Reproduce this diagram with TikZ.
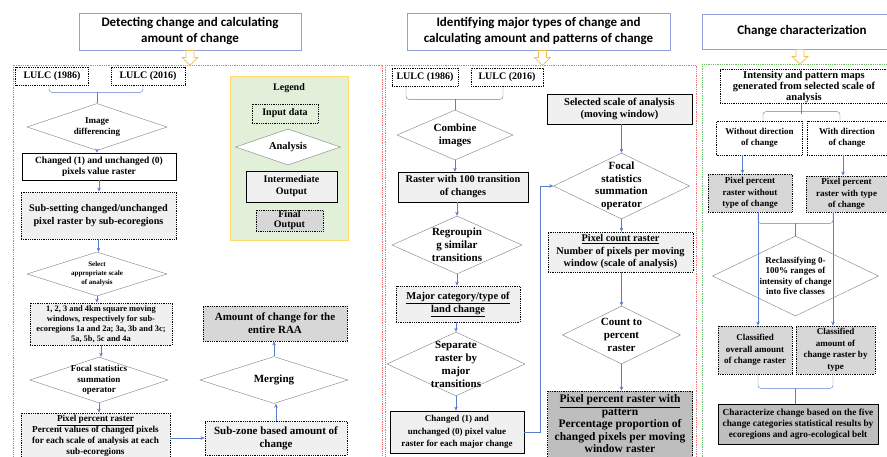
\documentclass[tikz,border=0pt]{standalone}
\usepackage{fontspec}
\setmainfont{Liberation Serif}
\newfontfamily\headfont{Carlito}
\usetikzlibrary{arrows.meta, shapes.geometric}

\definecolor{flowblue}{RGB}{91,125,205}
\definecolor{headline}{RGB}{143,160,220}
\definecolor{hollowarrow}{RGB}{245,190,70}
\definecolor{secred}{RGB}{240,110,110}
\definecolor{secgreen}{RGB}{110,190,100}
\definecolor{legfill}{RGB}{226,239,217}
\definecolor{legline}{RGB}{255,217,102}
\definecolor{greyA}{RGB}{240,240,240}
\definecolor{greyB}{RGB}{215,215,215}
\definecolor{greyC}{RGB}{190,190,190}

\newcommand{\bsz}[2]{\fontsize{#1}{#2}\selectfont\bfseries}

\begin{document}
\begin{tikzpicture}[
    x=1pt, y=-1pt,
    headbox/.style={draw=headline, thick, fill=white, align=center,
        font=\headfont\bfseries\fontsize{13}{16}\selectfont},
    secframe/.style={densely dotted, line width=0.8pt},
    hollow/.style={draw=hollowarrow, thick, fill=white},
    inbox/.style={draw, densely dotted, line width=0.8pt, align=center, inner sep=1pt},
    midbox/.style={draw, line width=0.7pt, align=center, inner sep=1pt},
    dia/.style={diamond, draw=gray, fill=white, align=center, inner xsep=-12pt, inner ysep=-8pt},
    sz/.style 2 args={minimum width=#1, minimum height=#2},
    flow/.style={draw=flowblue, -{Stealth[length=4pt,width=3.5pt]}},
    link/.style={draw=flowblue, rounded corners=3pt}
]
\useasboundingbox (0,0) rectangle (887,456);

% =========================
% Frames
% =========================
\draw[secframe, draw=secred] (13,65) rectangle (382,470);
\draw[secframe, draw=secred] (385,65) rectangle (696,470);
\draw[secframe, draw=secgreen] (702,64) rectangle (895,470);

% Headings
\node[headbox, sz={222}{37}] (head1) at (190,31.5) {Detecting change and calculating\\amount of change};
\node[headbox, sz={263}{37}] (head2) at (538.5,31.5) {Identifying major types  of change and\\calculating amount and patterns of change};
\node[headbox, sz={200}{35}] (head3) at (802,31.5) {Change characterization};

\foreach \h/\dx in {head1/0, head2/4, head3/-2}
{
    \draw[hollow] ([xshift=\dx pt]\h.south) ++(-4,0) -- ++(8,0) -- ++(0,7) -- ++(4,0)
        -- ++(-8,8) -- ++(-8,-8) -- ++(4,0) -- cycle;
}

% =========================
% Detecting change
% =========================
\node[inbox, fill=white, sz={73}{18}, font=\bsz{10}{12}] (lulcA1) at (52,76) {LULC (1986)};
\node[inbox, fill=white, sz={74}{18}, font=\bsz{10}{12}] (lulcB1) at (148,76) {LULC (2016)};
\node[dia, sz={140}{47}, font=\bsz{9}{11}] (diff) at (97,127) {Image\\differencing};
\node[midbox, fill=white, sz={154}{27}, font=\bsz{9.5}{11.5}] (chg1) at (99,166.5) {Changed (1) and unchanged (0)\\pixels value raster};
\node[inbox, fill=greyA, sz={155}{47}, font=\bsz{10.2}{13}] (subset) at (98.5,215.5) {Sub-setting changed/unchanged\\pixel raster by sub-ecoregions};
\node[dia, sz={140}{44}, font=\bsz{7}{9}] (scale) at (97,274) {Select\\appropriate scale\\of analysis};
\node[inbox, fill=greyA, sz={142}{42}, font=\bsz{8.4}{10}] (win) at (101,324) {1, 2,  3 and 4km square moving\\windows, respectively for sub-\\ecoregions 1a and 2a; 3a, 3b and 3c;\\5a, 5b, 5c and 4a};
\node[dia, sz={138}{46}, font=\bsz{9}{10.5}] (focal1) at (99,380) {Focal statistics\\summation\\operator};
\node[inbox, fill=greyA, sz={149}{46}, font=\bsz{9.2}{10.8}] (pct1) at (95.5,436) {\underline{Pixel  percent raster}\\Percent values of changed pixels\\for each scale of analysis at each\\sub-ecoregions};
\node[inbox, fill=greyA, sz={142}{34}, font=\bsz{11}{13}] (zone) at (276,438) {Sub-zone based amount of\\change};
\node[dia, sz={148}{47}, font=\bsz{11}{13}] (merge) at (274,380) {Merging};
\node[inbox, fill=greyB, sz={144}{35}, font=\bsz{11}{13}] (raa) at (275,323.5) {Amount of change for the\\entire RAA};

\draw[link] ([xshift=-3pt]lulcA1.south) -- ++(0,7) -| ([xshift=-5pt]lulcB1.south);
\draw[link] (diff.north) -- ++(0,-11);
\draw[flow] (diff.south) -- (diff.south |- chg1.north);
\draw[flow] (chg1.south) -- (chg1.south |- subset.north);
\draw[flow] (subset.south) -- (subset.south |- scale.north);
\draw[flow] (scale.south) -- (scale.south |- win.north);
\draw[flow] (win.south) -- (win.south |- focal1.north);
\draw[flow] (focal1.south) -- (focal1.south |- pct1.north);
\draw[flow] (pct1.east |- zone.west) -- (zone.west);
\draw[flow] (zone.north) -- (zone.north |- merge.south);
\draw[flow] (merge.north) -- (merge.north |- raa.south);

% Legend
\node[draw=legline, thick, fill=legfill, sz={118}{164}] (legend) at (289,158) {};
\node[font=\bsz{10}{12}] (legtitle) at (289,88) {Legend};
\node[inbox, sz={66}{19}, font=\bsz{10}{12}] (legin) at (285,113.5) {Input data};
\node[dia, sz={105}{36}, font=\bsz{10.5}{12}] (legana) at (288,147) {Analysis};
\node[midbox, fill=greyA, sz={91}{31}, font=\bsz{10}{12}] (legmid) at (291.5,186.5) {Intermediate\\Output};
\node[inbox, fill=greyB, sz={67}{21}, font=\bsz{10}{10}] (legfin) at (289.5,220.5) {Final\\Output};

% =========================
% Major types of change
% =========================
\node[inbox, fill=white, sz={66}{18}, font=\bsz{10}{12}] (lulcA2) at (425,77) {LULC (1986)};
\node[inbox, fill=white, sz={72}{18}, font=\bsz{10}{12}] (lulcB2) at (507,77) {LULC (2016)};
\node[dia, sz={116}{50}, font=\bsz{11}{13}] (combine) at (455,135) {Combine\\images};
\node[midbox, fill=greyA, sz={130}{30}, font=\bsz{10.3}{13}] (r100) at (463,187) {Raster with 100 transition\\of changes};
\node[dia, sz={130}{58}, font=\bsz{11}{13}] (regroup) at (457,245) {Regroupin\\g similar\\transitions};
\node[inbox, fill=greyA, sz={124}{36}, font=\bsz{10.5}{13}] (major) at (458,304) {\underline{Major category/type of}\\\underline{land change}};
\node[dia, sz={138}{64}, font=\bsz{11}{13}] (separate) at (456,364) {Separate\\raster by\\major\\transitions};
\node[midbox, fill=greyA, sz={134}{42}, font=\bsz{9}{12.5}] (chg2) at (457,432) {Changed  (1) and\\unchanged  (0) pixel  value\\raster for each major change};
\node[midbox, fill=greyA, sz={145}{30}, font=\bsz{10.5}{12}] (selwin) at (619.5,109) {Selected scale of analysis\\(moving window)};
\node[dia, sz={136}{66}, font=\bsz{11}{12.5}] (focal2) at (621.5,186) {Focal\\statistics\\summation\\operator};
\node[inbox, fill=greyA, sz={145}{40}, font=\bsz{10.3}{12.5}] (count) at (620.5,252) {\underline{Pixel  count raster}\\Number of pixels per moving\\window (scale of analysis)};
\node[dia, sz={118}{58}, font=\bsz{11}{13}] (c2p) at (621.5,335) {Count to\\percent\\raster};
\node[inbox, fill=greyC, sz={145}{66}, font=\bsz{11.5}{12.5}] (pattern) at (620,424) {\underline{Pixel  percent raster with}\\pattern\\Percentage proportion of\\changed pixels per moving\\window raster};

\draw[link] ([xshift=-19pt]lulcA2.south) -- ++(0,13) -| ([xshift=-4pt]lulcB2.south);
\draw[link] (combine.north) -- ++(0,-11);
\draw[flow] (combine.south) -- (combine.south |- r100.north);
\draw[flow] (regroup.north |- r100.south) -- (regroup.north);
\draw[flow] (regroup.south) -- (regroup.south |- major.north);
\draw[flow] (separate.north |- major.south) -- (separate.north);
\draw[flow] (separate.south) -- (separate.south |- chg2.north);
\draw[flow] (chg2.east) -- ++(16,0) |- (focal2.west);
\draw[flow] (focal2.north |- selwin.south) -- (focal2.north);
\draw[flow] (focal2.south) -- (focal2.south |- count.north);
\draw[flow] (c2p.north |- count.south) -- (c2p.north);
\draw[flow] (c2p.south) -- (c2p.south |- pattern.north);

% =========================
% Change characterization
% =========================
\node[inbox, fill=white, sz={168}{31}, font=\bsz{10.5}{11}] (intens) at (804,86.5) {Intensity and pattern maps\\generated from selected scale of\\analysis};
\node[inbox, fill=white, sz={86}{34}, font=\bsz{9}{11}] (wo) at (759.5,138) {Without direction\\of change};
\node[inbox, fill=white, sz={80}{34}, font=\bsz{9}{11}] (wi) at (847,138) {With direction\\of change};
\node[inbox, fill=greyB, sz={84}{38}, font=\bsz{9}{11.5}] (ppwo) at (750,193) {Pixel  percent\\raster without\\type of change};
\node[inbox, fill=greyB, sz={81}{36}, font=\bsz{9}{11.5}] (ppwi) at (846.5,194) {Pixel  percent\\raster with type\\of change};
\node[dia, sz={166}{80}, font=\bsz{9}{10.5}] (reclass) at (795.5,276) {Reclassifying 0-\\100\% ranges of\\intensity of change\\into five classes};
\node[inbox, fill=greyB, sz={74}{48}, font=\bsz{9}{11.5}] (clo) at (755,350) {Classified\\overall amount\\of change raster};
\node[inbox, fill=greyB, sz={79}{48}, font=\bsz{9}{11.5}] (clt) at (835.5,350) {Classified\\amount of\\change raster by\\type};
\node[midbox, fill=greyC, sz={160}{40}, font=\bsz{9.3}{11}] (charz) at (798,424) {Characterize change based on the five\\change categories statistical results by\\ecoregions and agro-ecological belt};

\draw[link] ([xshift=3.5pt]wo.north) -- ++(0,-9) -| ([xshift=-7pt]wi.north);
\draw[link] ([xshift=-3pt]intens.south) -- ++(0,10);
\draw[flow] ([xshift=-17pt]wo.south) -- ([xshift=-17pt]wo.south |- ppwo.north);
\draw[flow] ([xshift=-4pt]wi.south) -- ([xshift=-4pt]wi.south |- ppwi.north);
\draw[flow] ([xshift=8pt]ppwo.south) -- ([xshift=8pt]ppwo.south |- clo.north);
\draw[flow] ([xshift=-13.5pt]ppwi.south) -- ([xshift=-13.5pt]ppwi.south |- clt.north);
\draw[link] ([xshift=8pt]ppwo.south) -- ++(0,11) -| ([xshift=-13.5pt]ppwi.south);
\draw[link] (reclass.north) -- ++(0,-13);
\draw[link] ([xshift=3pt]clo.south) -- ++(0,14) -| ([xshift=-2.5pt]clt.south);
\draw[link] ([xshift=-3pt]charz.north) -- ++(0,-16);

\end{tikzpicture}
\end{document}
